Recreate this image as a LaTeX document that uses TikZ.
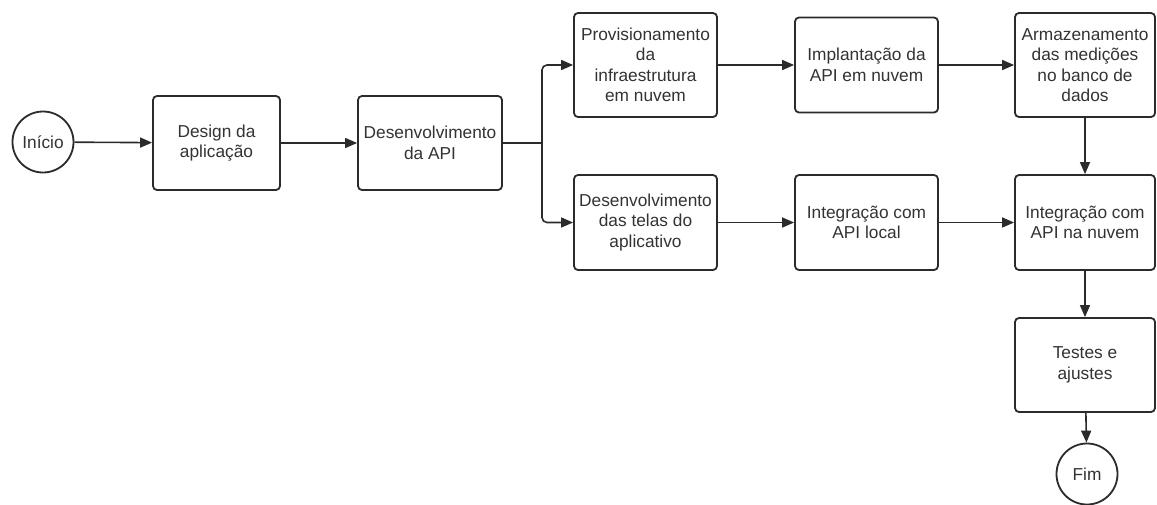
\documentclass[tikz,border=0pt]{standalone}
\usepackage{fontspec}
\setmainfont{Liberation Sans}
\usetikzlibrary{arrows.meta}
\definecolor{ln}{HTML}{2B2B2B}
\definecolor{tx}{HTML}{333333}
\tikzset{
  stepbox/.style={draw=ln, line width=1.8pt, rounded corners=4pt, fill=white, align=center,
    text=tx, font=\fontsize{17.3}{20.5}\selectfont, inner sep=0pt},
  term/.style={draw=ln, line width=1.8pt, circle, fill=white, text=tx,
    font=\fontsize{17.3}{20.5}\selectfont, minimum size=61pt, inner sep=0pt},
  conn/.style={draw=ln, line width=1.6pt, -{Triangle[length=12pt,width=10pt]}},
}
\begin{document}
\begin{tikzpicture}[x=1pt,y=-1pt]
\useasboundingbox (0,0) rectangle (1157,504);
\newcommand{\bx}[6]{\node[stepbox, minimum width=#4pt, minimum height=#5pt] (#1) at (#2,#3) {#6};}
\node[term] (ini) at (43,142) {Início};
\bx{des}{216.5}{143}{127}{94}{Design da\\aplicação}
\bx{api}{430}{143}{144}{94}{Desenvolvimento\\da API}
\bx{prov}{645.5}{65}{143}{104}{Provisionamento\\da\\infraestrutura\\em nuvem}
\bx{impl}{866.5}{65}{143}{95}{Implantação da\\API em nuvem}
\bx{arm}{1085}{65}{140}{104}{Armazenamento\\das medições\\no banco de\\dados}
\bx{tel}{645.5}{222.5}{143}{95}{Desenvolvimento\\das telas do\\aplicativo}
\bx{loc}{866.5}{222.5}{143}{95}{Integração com\\API local}
\bx{nuv}{1085}{222.5}{140}{95}{Integração com\\API na nuvem}
\bx{tst}{1085}{365}{140}{94}{Testes e\\ajustes}
\node[term] (fim) at (1087,474) {Fim};
\coordinate (br) at (542,143);
\draw[conn] (ini) -- (des);
\draw[conn] (des) -- (api);
\draw[draw=ln, line width=1.6pt] (api.east) -- (br);
\draw[conn, rounded corners=5pt] (br) |- (prov.west);
\draw[conn, rounded corners=5pt] (br) |- (tel.west);
\draw[conn] (prov) -- (impl);
\draw[conn] (impl) -- (arm);
\draw[conn] (arm) -- (nuv);
\draw[conn] (tel) -- (loc);
\draw[conn] (loc) -- (nuv);
\draw[conn] (nuv) -- (tst);
\draw[conn] (tst) -- (fim);
\end{tikzpicture}
\end{document}
